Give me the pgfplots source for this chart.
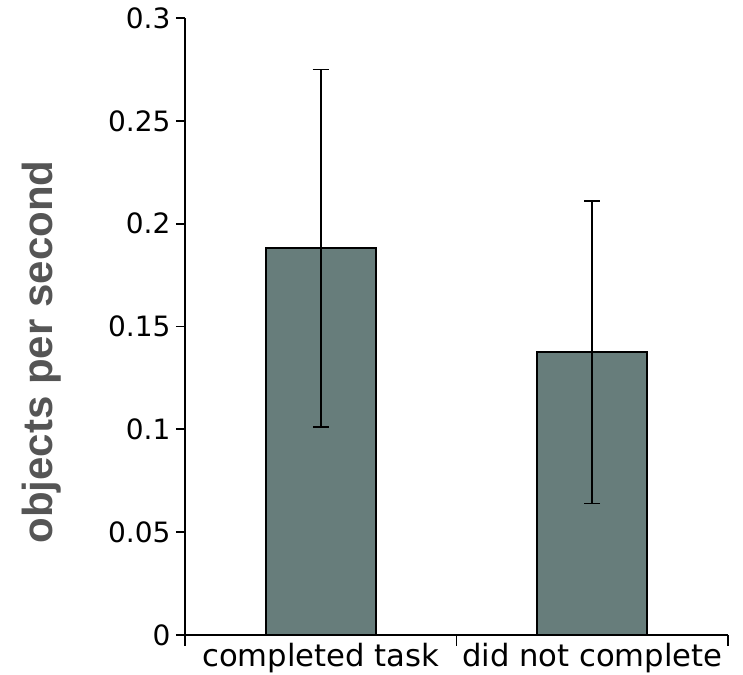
\documentclass[border=0pt]{standalone}
\usepackage{pgfplots}
\pgfplotsset{compat=1.18}
\usepackage{fontspec}
\setmainfont{DejaVu Sans}
\newfontfamily\arialfont{Liberation Sans}
\definecolor{barcol}{HTML}{677D7B}
\definecolor{labgray}{HTML}{555555}
\begin{document}
\begin{tikzpicture}
\begin{axis}[
  at={(0,0)}, anchor=south west,
  scale only axis,
  width=407.25pt, height=462.75pt,
  xmin=-0.5, xmax=1.5,
  ymin=0, ymax=0.3,
  axis x line*=bottom, axis y line*=left,
  axis line style={line width=1.3pt, black},
  every tick/.style={line width=1.3pt, black},
  tick align=outside,
  ytick={0,0.05,0.1,0.15,0.2,0.25,0.3},
  yticklabels={0,0.05,0.1,0.15,0.2,0.25,0.3},
  yticklabel style={font=\fontsize{21}{24}\selectfont, inner sep=0pt, xshift=-4pt},
  major tick length=6.75pt,
  xtick={0,1},
  xticklabels={completed task, did not complete},
  xtick style={draw=none},
  xticklabel style={font=\fontsize{23}{26}\selectfont, inner sep=0pt, yshift=1pt},
  extra x ticks={-0.5,0.5,1.5},
  extra x tick labels={},
  extra x tick style={major tick length=8pt, xtick style={draw=black, line width=1.3pt}},
  ylabel={\arialfont\bfseries objects per second},
  ylabel style={at={(axis description cs:-0.2634,0.4587)}, anchor=center, font=\fontsize{31.5}{34}\selectfont, text=labgray},
  clip=false,
]
\addplot[ybar, bar width=0.405, fill=barcol, draw=black, line width=1.3pt,
  error bars/.cd, y dir=both, y explicit,
  error mark=|,
  error bar style={line width=1.3pt, black},
  error mark options={line width=1.3pt, black, mark size=6pt}]
  coordinates {
    (0,0.188) -= (0,0.087) += (0,0.087)
    (1,0.1375) -= (0,0.0735) += (0,0.0735)
  };
\end{axis}
\pgfresetboundingbox
\path[use as bounding box] (-138.75pt,-30pt) rectangle (418.5pt,476.25pt);
\end{tikzpicture}
\end{document}
